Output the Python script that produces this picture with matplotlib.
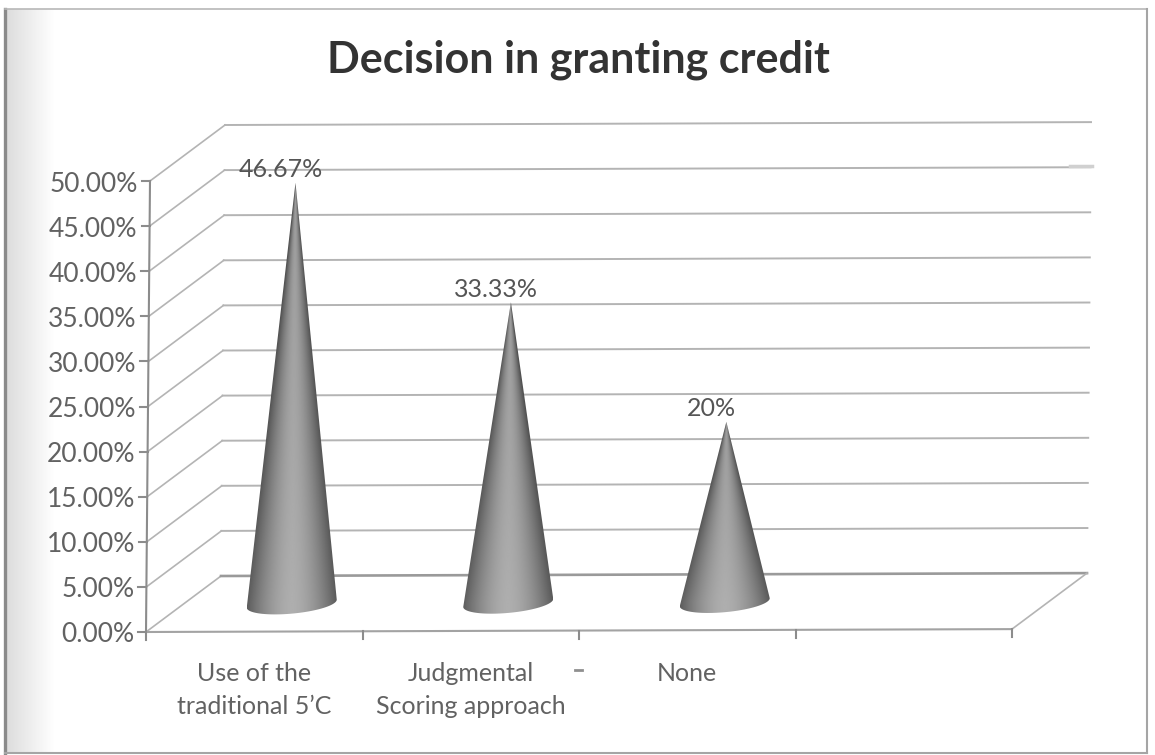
import numpy as np
import matplotlib
matplotlib.use("Agg")
import matplotlib.pyplot as plt
from matplotlib.lines import Line2D
from matplotlib.patches import Polygon

# chart data
categories = ["Use of the\ntraditional 5\u2019C", "Judgmental\nScoring approach", "None"]
values = [46.67, 33.33, 20]
value_labels = ["46.67%", "33.33%", "20%"]
y_ticks = [0, 5, 10, 15, 20, 25, 30, 35, 40, 45, 50]
n_slots = 4

W, H = 1155, 755
plt.rcParams['font.family'] = ['Lato', 'DejaVu Sans']

# one category is 216.5 px wide, one percent is 9.02 px high
px_x = 216.5
px_y = 9.02
depth_x = 75 / px_x
depth_y = 56 / px_y

fig = plt.figure(figsize=(W / 100, H / 100), dpi=100, facecolor='white')

# grey shadow of the scanned page on the left
bg = fig.add_axes([5 / W, 2 / H, 50 / W, 744 / H])
bg.imshow(np.linspace(0.86, 1, 100).reshape(1, -1), cmap='gray', vmin=0, vmax=1, aspect='auto')
bg.axis('off')

ax = fig.add_axes([0, 0, 1, 1])
ax.patch.set_alpha(0)
ax.set_xlim(-146 / px_x, (W - 146) / px_x)
ax.set_ylim((632 - H) / px_y, 632 / px_y)
ax.axis('off')


# front plane + depth, with the small tilt of the scan
def project(x, y, depth=0.0):
    return (x + depth * depth_x + y * 0.00037,
            y + depth * depth_y + x * 0.08)


grid_col = '#b4b4b4'
for v in y_ticks:
    x0, y0 = project(0, v)
    x1, y1 = project(0, v, 1)
    x2, y2 = project(n_slots, v, 1)
    ax.plot([x0, x1], [y0, y1], color=grid_col, lw=1.2, zorder=2)
    ax.plot([x1, x2], [y1, y2], color='#9a9a9a' if v == 0 else grid_col, lw=1.9 if v == 0 else 1.4, zorder=2)
    # tick and label on the value axis
    tx, ty = project(0, v)
    ax.plot([tx - 8 / px_x, tx], [ty, ty], color='#8c8c8c', lw=1.5, zorder=3)
    ax.annotate("%.2f%%" % v, (tx, ty), xytext=(-12, -3), textcoords='offset pixels',
                ha='right', va='center', fontsize=19, color='#626262')

# axis lines
p0 = project(0, 0)
p1 = project(0, y_ticks[-1])
p2 = project(n_slots, 0)
p3 = project(n_slots, 0, 1)
ax.plot([p0[0], p1[0]], [p0[1], p1[1]], color='#8c8c8c', lw=1.5, zorder=3)
ax.plot([p0[0], p2[0]], [p0[1], p2[1]], color='#a3a3a3', lw=1.5, zorder=3)
ax.plot([p2[0], p3[0]], [p2[1], p3[1]], color=grid_col, lw=1.2, zorder=3)

for i in range(n_slots + 1):
    tx, ty = project(i, 0)
    ax.plot([tx, tx], [ty, ty - 8 / px_y], color='#8c8c8c', lw=1.5, zorder=3)

# cones
half_w = 45 / px_x
half_h = 10 / px_y
tilt = 4 / px_y
for i, val in enumerate(values):
    cx, cy = project(i + 0.5, 0, 0.5)
    ax_x, ax_y = project(i + 0.5, val, 0.5)

    theta = np.linspace(np.pi, 2 * np.pi, 60)
    ex = cx + half_w * np.cos(theta)
    ey = cy + half_h * np.sin(theta) + tilt * np.cos(theta)
    outline = np.column_stack([np.r_[ex, ax_x], np.r_[ey, ax_y]])

    xs = np.linspace(cx - half_w, cx + half_w, 300)
    ys = np.linspace(cy - half_h - tilt, ax_y, 500)
    X, Y = np.meshgrid(xs, ys)
    t = np.clip((Y - cy) / (ax_y - cy), 0, 0.995)
    u = (X - (cx + (ax_x - cx) * t)) / (half_w * (1 - t))
    u = np.clip(u, -1, 1)
    shade = 92 + 82 * (1 - np.abs(u) ** 1.7) - 18 * t

    im = ax.imshow(shade, cmap='gray', vmin=0, vmax=255, aspect='auto', origin='lower',
                   extent=(xs[0], xs[-1], ys[0], ys[-1]), zorder=4)
    im.set_clip_path(Polygon(outline, closed=True, transform=ax.transData))

    ax.annotate(value_labels[i], (ax_x, ax_y), xytext=(-15, 13), textcoords='offset pixels',
                ha='center', va='center', fontsize=18, color='#555555', zorder=5)

    ax.annotate(categories[i], (i + 0.5, 0), xytext=(0, -30), textcoords='offset pixels',
                ha='center', va='top', fontsize=18, color='#626262', linespacing=1.55)

ax.set_xlim(-146 / px_x, (W - 146) / px_x)
ax.set_ylim((632 - H) / px_y, 632 / px_y)

fig.text(578 / W, 1 - 60 / H, "Decision in granting credit", ha='center', va='center',
         fontsize=31, fontweight='bold', color='#333333')


# page frame and small scan marks, in pixels
def page_line(xs, ys, col, lw):
    fig.add_artist(Line2D(np.array(xs) / W, 1 - np.array(ys) / H, color=col, lw=lw))


page_line([5, 5], [9, 753], '#8a8a8a', 2.4)
page_line([5, 1147], [9, 9], '#b8b8b8', 1.2)
page_line([1147, 1147], [9, 753], '#a5a5a5', 1.5)
page_line([5, 1147], [753, 753], '#a5a5a5', 1.5)
page_line([575, 582], [670, 670], '#8f8f8f', 2)
page_line([1070, 1092], [166, 166], '#d0d0d0', 2.5)

fig.savefig("out.png", dpi=100)
